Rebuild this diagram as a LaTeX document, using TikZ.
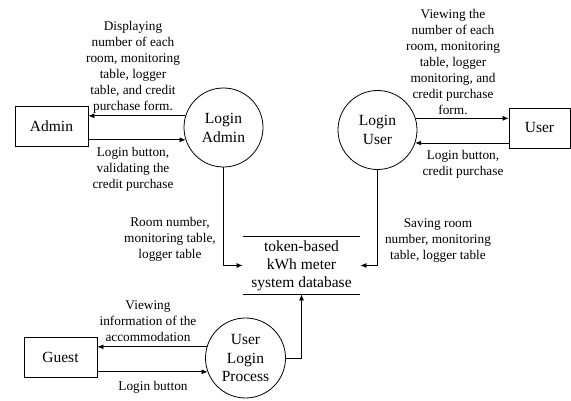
\documentclass[tikz,border=0pt]{standalone}
\usepackage{fontspec}
\setmainfont{Liberation Serif}
\usetikzlibrary{arrows.meta}
\begin{document}
\begin{tikzpicture}[x=1pt,y=-1pt,
  line width=0.8pt,
  arr/.style={-{Latex[length=6pt,width=5pt]}},
  ent/.style={draw,rectangle,inner sep=0pt,font=\fontsize{15.5}{19}\selectfont},
  proc/.style={draw,circle,inner sep=0pt,minimum size=79pt,align=center,font=\fontsize{15.5}{19}\selectfont},
  lbl/.style={inner sep=0pt,align=center,font=\fontsize{13.3}{16}\selectfont}]
\useasboundingbox (0,0) rectangle (571,401);
% entities
\node[ent,minimum width=73pt,minimum height=40pt] (admin) at (51.5,126) {Admin};
\node[ent,minimum width=61pt,minimum height=40pt] (user) at (539.5,128) {User};
\node[ent,minimum width=73pt,minimum height=40pt] (guest) at (60.5,357) {Guest};
% processes
\node[proc] (loginadmin) at (223.5,127.5) {Login\\Admin};
\node[proc] (loginuser) at (377.5,130) {Login\\User};
\node[proc,minimum size=80pt] (ulp) at (245.5,358) {User\\Login\\Process};
% data store
\node[inner sep=0pt,minimum width=117pt,minimum height=57pt,align=center,
  font=\fontsize{15.5}{18}\selectfont] (db) at (301.5,265.5) {token-based\\kWh meter\\system database};
\draw (db.north west) -- (db.north east);
\draw (db.south west) -- (db.south east);
% flows
\draw[arr] (loginadmin.163) -- (loginadmin.163 -| admin.east);
\draw[arr] (admin.east |- loginadmin.198.4) -- (loginadmin.198.4);
\draw[arr] (loginuser.17.7) -- (loginuser.17.7 -| user.west);
\draw[arr] (user.west |- loginuser.-19.2) -- (loginuser.-19.2);
\draw[arr] (ulp.164) -- (ulp.164 -| guest.east);
\draw[arr] (guest.east |- ulp.200.5) -- (ulp.200.5);
\draw[arr] (loginadmin.south) |- (db.west);
\draw[arr] (loginuser.south) |- (db.east);
\draw[arr] (ulp.east) -| (db.south);
% labels
\node[lbl] (l1) at (133,67) {Displaying\\number of each\\room, monitoring\\table, logger\\table, and credit\\purchase form.};
\node[lbl] (l2) at (133,169.5) {Login button,\\validating the\\credit purchase};
\node[lbl] (l3) at (453,62) {Viewing the\\number of each\\room, monitoring\\table, logger\\monitoring, and\\credit purchase\\form.};
\node[lbl] (l4) at (463,164) {Login button,\\credit purchase};
\node[lbl] (l5) at (170,239) {Room number,\\monitoring table,\\logger table};
\node[lbl] (l6) at (438,241) {Saving room\\number, monitoring\\table, logger table};
\node[lbl] (l7) at (148,321) {Viewing\\information of the\\accommodation};
\node[lbl] (l8) at (153,387) {Login button};
\end{tikzpicture}
\end{document}
